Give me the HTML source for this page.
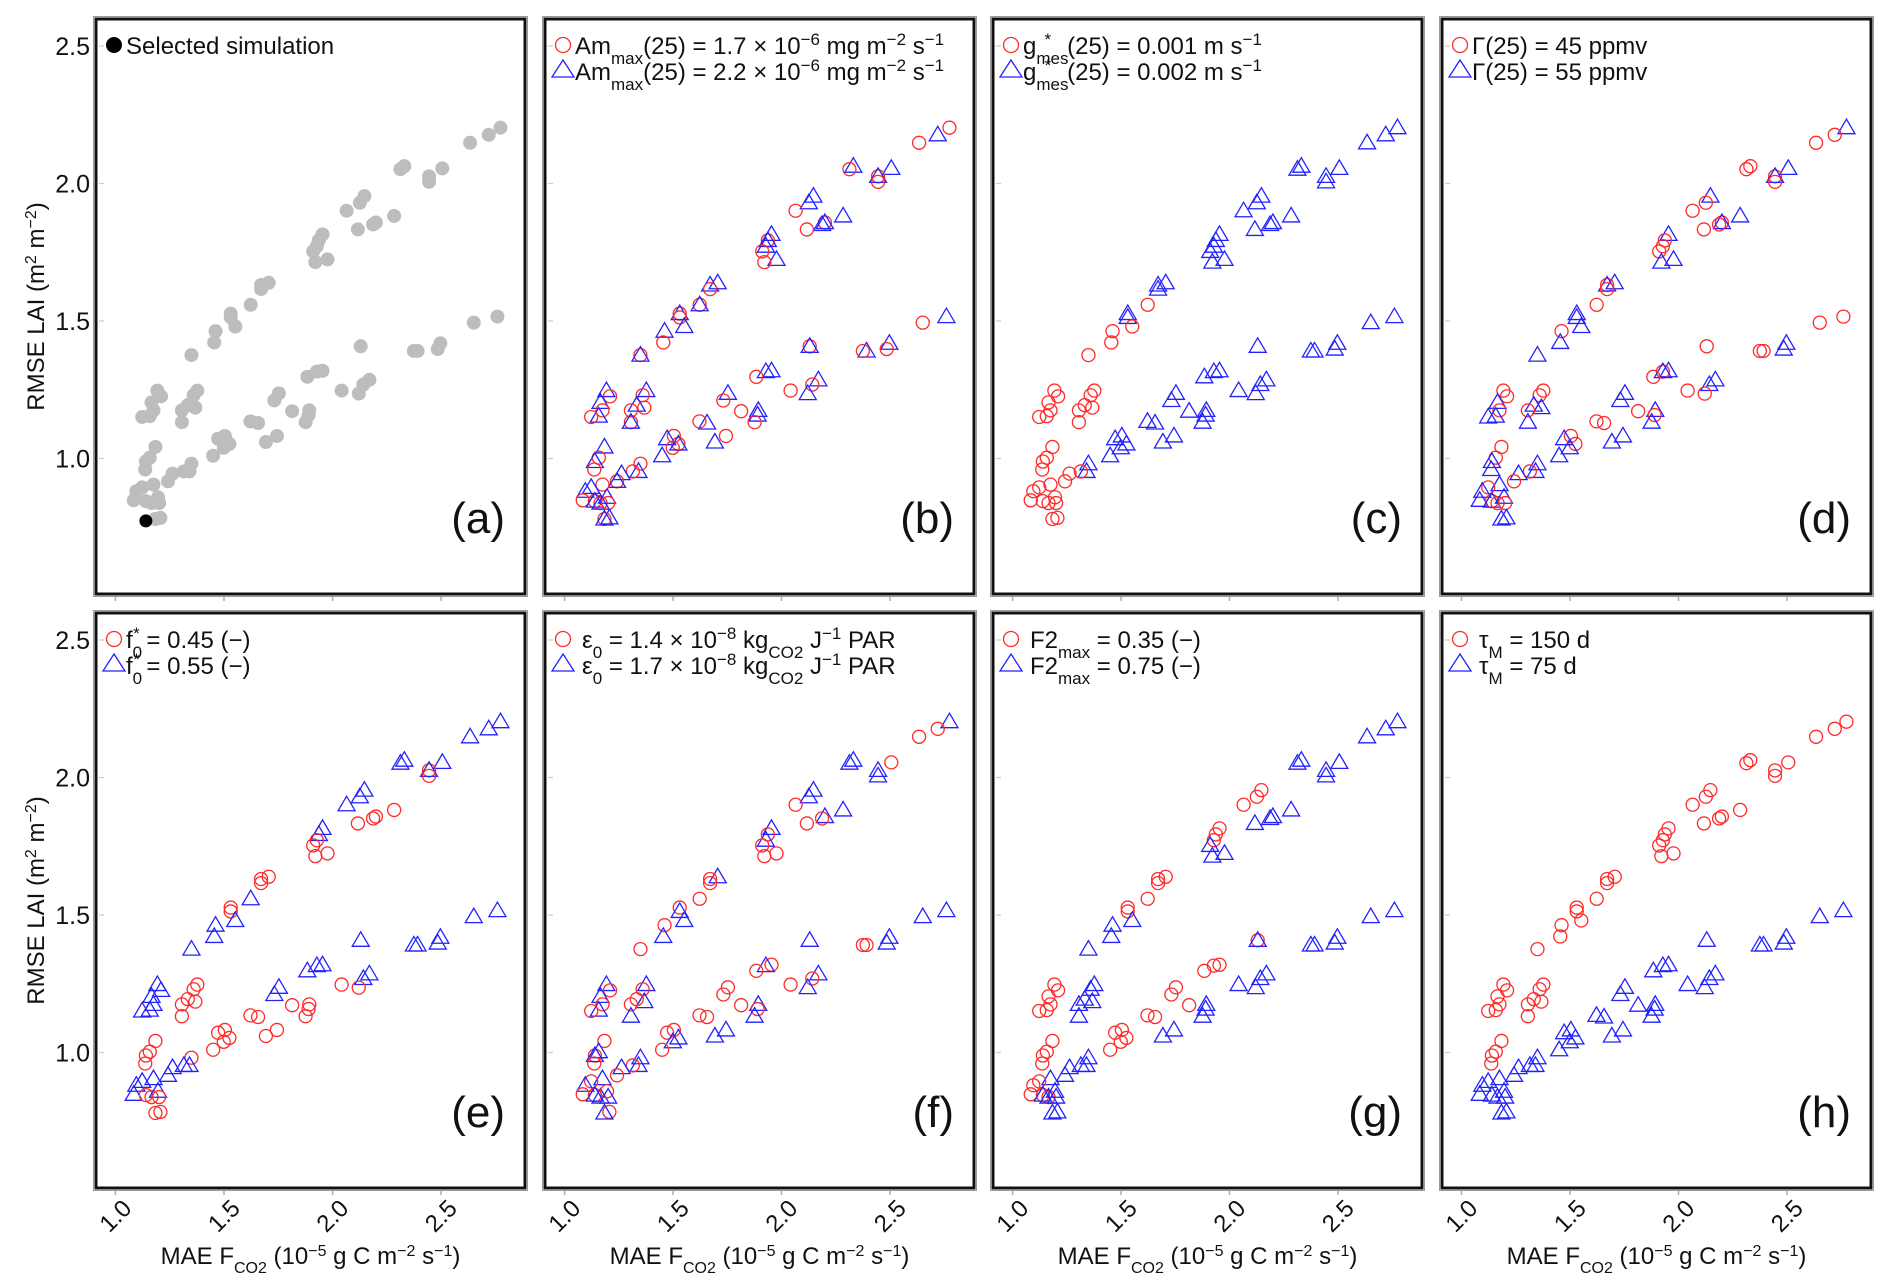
<!DOCTYPE html>
<html><head><meta charset="utf-8"><style>
html,body{margin:0;padding:0;background:#fff;}
svg{display:block;font-family:"Liberation Sans",sans-serif;}
</style></head><body>
<svg id="fig" width="1892" height="1288" viewBox="0 0 1892 1288" xmlns="http://www.w3.org/2000/svg">
<g id="panels"></g>
<g id="legends" font-size="24" fill="#111">
 <g>
  <circle cx="114" cy="45" r="8" fill="#000"/>
  <text x="126" y="54">Selected simulation</text>
 </g>
 <g>
  <text x="575" y="54">Am<tspan baseline-shift="sub" font-size="17">max</tspan>(25) = 1.7 × 10<tspan baseline-shift="super" font-size="17">−6</tspan>  mg  m<tspan baseline-shift="super" font-size="17">−2</tspan>  s<tspan baseline-shift="super" font-size="17">−1</tspan></text>
  <text x="575" y="80">Am<tspan baseline-shift="sub" font-size="17">max</tspan>(25) = 2.2 × 10<tspan baseline-shift="super" font-size="17">−6</tspan>  mg  m<tspan baseline-shift="super" font-size="17">−2</tspan>  s<tspan baseline-shift="super" font-size="17">−1</tspan></text>
 </g>
 <g>
  <text x="1023" y="54">g<tspan baseline-shift="sub" font-size="17">mes</tspan><tspan dx="-24" baseline-shift="super" font-size="17">*</tspan><tspan dx="16">(25) = 0.001 m  s</tspan><tspan baseline-shift="super" font-size="17">−1</tspan></text>
  <text x="1023" y="80">g<tspan baseline-shift="sub" font-size="17">mes</tspan><tspan dx="-24" baseline-shift="super" font-size="17">*</tspan><tspan dx="16">(25) = 0.002 m  s</tspan><tspan baseline-shift="super" font-size="17">−1</tspan></text>
 </g>
 <g>
  <text x="1472" y="54">Γ(25) = 45 ppmv</text>
  <text x="1472" y="80">Γ(25) = 55 ppmv</text>
 </g>
 <g>
  <text x="126" y="648">f<tspan baseline-shift="sub" font-size="17">0</tspan><tspan dx="-9" baseline-shift="super" font-size="17">*</tspan> = 0.45 (−)</text>
  <text x="126" y="674">f<tspan baseline-shift="sub" font-size="17">0</tspan><tspan dx="-9" baseline-shift="super" font-size="17">*</tspan> = 0.55 (−)</text>
 </g>
 <g>
  <text x="582" y="648">ε<tspan baseline-shift="sub" font-size="17">0</tspan> = 1.4 × 10<tspan baseline-shift="super" font-size="17">−8</tspan> kg<tspan baseline-shift="sub" font-size="17">CO2</tspan>  J<tspan baseline-shift="super" font-size="17">−1</tspan>  PAR</text>
  <text x="582" y="674">ε<tspan baseline-shift="sub" font-size="17">0</tspan> = 1.7 × 10<tspan baseline-shift="super" font-size="17">−8</tspan> kg<tspan baseline-shift="sub" font-size="17">CO2</tspan>  J<tspan baseline-shift="super" font-size="17">−1</tspan>  PAR</text>
 </g>
 <g>
  <text x="1030" y="648">F2<tspan baseline-shift="sub" font-size="17">max</tspan> = 0.35 (−)</text>
  <text x="1030" y="674">F2<tspan baseline-shift="sub" font-size="17">max</tspan> = 0.75 (−)</text>
 </g>
 <g>
  <text x="1479" y="648">τ<tspan baseline-shift="sub" font-size="17">M</tspan> = 150 d</text>
  <text x="1479" y="674">τ<tspan baseline-shift="sub" font-size="17">M</tspan> = 75 d</text>
 </g>
</g>
</svg>
<script>
const upperX=[2.774,2.72,2.634,2.506,2.445,2.445,2.331,2.313,2.284,2.2,2.187,2.117,2.147,2.126,2.065,1.954,1.937,1.928,1.911,1.977,1.921,1.706,1.671,1.671,1.623,1.531,1.531,1.552,1.461,1.455,1.35,1.377,1.36,1.368,1.333,1.306,1.306,1.193,1.21,1.166,1.175,1.158,1.123];
const upperY=[2.203,2.177,2.148,2.055,2.026,2.006,2.063,2.052,1.882,1.858,1.851,1.833,1.954,1.93,1.901,1.815,1.793,1.772,1.753,1.724,1.714,1.639,1.631,1.616,1.559,1.527,1.513,1.48,1.463,1.422,1.376,1.247,1.23,1.185,1.194,1.175,1.132,1.247,1.226,1.204,1.175,1.154,1.151];
const lowerX=[2.76,2.651,2.497,2.485,2.392,2.375,2.13,2.17,2.142,2.121,2.042,1.954,1.928,1.884,1.893,1.89,1.876,1.814,1.753,1.732,1.744,1.693,1.657,1.622,1.525,1.504,1.473,1.499,1.45,1.35,1.341,1.315,1.263,1.242];
const lowerY=[1.516,1.494,1.419,1.398,1.391,1.391,1.408,1.286,1.269,1.236,1.247,1.319,1.316,1.297,1.175,1.158,1.132,1.172,1.237,1.211,1.082,1.06,1.129,1.135,1.053,1.082,1.072,1.039,1.01,0.981,0.953,0.953,0.945,0.917];
const clusterX=[1.184,1.158,1.14,1.137,1.175,1.123,1.096,1.084,1.14,1.166,1.196,1.201,1.207,1.184];
const clusterY=[1.042,1.003,0.989,0.96,0.905,0.895,0.881,0.848,0.845,0.838,0.859,0.838,0.784,0.78];
const selectedX=[1.14];
const selectedY=[0.773];
const groupsB="rbrbxrbrbxbrbbrbxbrbrbbrxxrbbrxbrrbrxbrbrbr"+"brbrbrxbrbrbbrbbrrbrrbbrxrbrbrbrbx"+"brbrrbbrxxbrbx";
const groupsC="bbbbbbbbbbbbbbbbbbbbbbbbrbbrrrrrrrrrrrrrrrr"+"bbbbbbbbbbbbbbbbbbbbbbbbbbbbbbbrrr"+"rrrrrrrrrrrrrr";
const groupsD="brrbxrrrbxrrbrrbrrrbbbxrrbbbrbbrrbbrbrrbrbb"+"rrbbrrrbbrrbxrbrbrbbbbrrrrbbbbbrbr"+"rrbbbrbbxrbrbb";
const groupsE="bbbbxrbbrrrrbbbbbrrrrrrrbrrbbbbrrrrrrbbbbbb"+"bbbbbbbbbrrbbbrrrrbbrrrrrrrrrrbbbb"+"rrrrbbbbrrbrrr";
const groupsF="brrrbbbbbbrrbbrbrbrrrbrrrrbbrbrbrbrrbbrbrbr"+"bbbbrrbbrbrrbrbrbrrrbbrrbrrbrbbrbr"+"rbxrbrbrxbrbrb";
const groupsG="bbbbbbbbbbbbrrrrrrbbbrrrrrrbbbbbbbbbbrrrrrr"+"bbbbbbxbbbbrrrbbbrrrbbrrrrrrrbbbbb"+"rrrrbrrrxxbbbb";
const groupsH="rrrrrrrrrrrrrrrrrrrrrrrrrrrrrrrrrrrrrrrrrrr"+"bbbbbbbbbbbbbbbbbbbbbbbbbbbbbbbbbb"+"rrrrbbbbbbbbbb";
const panelLetters=["a","b","c","d","e","f","g","h"];
const xTicks=[1.0,1.5,2.0,2.5];
const yTicks=[1.0,1.5,2.0,2.5];
const xTickLabels=["1.0","1.5","2.0","2.5"];
const yTickLabels=["1.0","1.5","2.0","2.5"];

const NS="http://www.w3.org/2000/svg";
const colLeft=[96,545,993,1442], rowTop=[19,613], PW=429, PH=575;
function sx(col,v){return colLeft[col]+19.5+(v-1)*217;}
function sy(row,v){return rowTop[row]+27+(2.5-v)*275;}
function mk(tag,attrs,parent){const e=document.createElementNS(NS,tag);for(const k in attrs)e.setAttribute(k,attrs[k]);parent.appendChild(e);return e;}
const allX=upperX.concat(lowerX,clusterX), allY=upperY.concat(lowerY,clusterY);
const groups=[null,groupsB,groupsC,groupsD,groupsE,groupsF,groupsG,groupsH];
const root=document.getElementById('panels');
for(let p=0;p<8;p++){
  const col=p%4,row=Math.floor(p/4);
  const L=colLeft[col],T=rowTop[row];
  const g=mk('g',{},root);
  
  
  xTicks.forEach((t,i)=>{
    const tk=mk('line',{x1:sx(col,t),x2:sx(col,t),y1:T+PH+2,y2:T+PH+7,stroke:'#aaa','stroke-width':1.5},g);
    
    
    if(row===1){
      const x=sx(col,t),y=T+PH+36;
      const tl=mk('text',{x:x,y:y,'font-size':24,'text-anchor':'middle',fill:'#111',transform:'rotate(-45 '+x+' '+(y-8)+')'},g);
      tl.textContent=xTickLabels[i];
      
      
    }
  });
  yTicks.forEach((t,i)=>{
    const tk=mk('line',{x1:L+3,x2:L+8,y1:sy(row,t),y2:sy(row,t),stroke:'#ccc','stroke-width':1.2},g);
    
    
    if(col===0){
      const tl=mk('text',{x:L-6,y:sy(row,t)+9,'font-size':25,'text-anchor':'end',fill:'#111'},g);
      tl.textContent=yTickLabels[i];
      
      
    }
  });
  const fr=mk('rect',{x:L,y:T,width:PW,height:PH,fill:'none',stroke:'#111','stroke-width':3},g);
  
  
  mk('rect',{x:L-2.5,y:T-2.5,width:PW+5,height:PH+5,fill:'none',stroke:'#999','stroke-width':1},g);
  const gm=mk('g',{},g);
  
  
  for(let i=0;i<allX.length;i++){
    const x=sx(col,allX[i]),y=sy(row,allY[i]);
    if(p===0){
      const c=mk('circle',{cx:x,cy:y,r:7,fill:'#bdbdbd'},gm);
      
      
      continue;
    }
    const code=groups[p][i]||'r';
    if(code==='r'||code==='x'){
      const c=mk('circle',{cx:x,cy:y,r:6.5,fill:'none',stroke:'#ff2a2a','stroke-width':1.3},gm);
      
      
    }
    if(code==='b'||code==='x'){
      const tr=mk('polygon',{points:(x)+','+(y-8.5)+' '+(x-8.5)+','+(y+6)+' '+(x+8.5)+','+(y+6),fill:'none',stroke:'#2222ff','stroke-width':1.3},gm);
      
      
    }
  }
  if(p===0){
    for(let i=0;i<selectedX.length;i++){
      const c=mk('circle',{cx:sx(col,selectedX[i]),cy:sy(row,selectedY[i]),r:6.5,fill:'#000'},gm);
      
      
    }
  }else{
    const lc=mk('circle',{cx:L+18,cy:T+26,r:7.5,fill:'none',stroke:'#ff2a2a','stroke-width':1.3},g);
    
    
    const lx=L+18,ly=T+51;
    const lt=mk('polygon',{points:lx+','+(ly-10)+' '+(lx-11)+','+(ly+7)+' '+(lx+11)+','+(ly+7),fill:'none',stroke:'#2222ff','stroke-width':1.3},g);
    
    
  }
  const pl=mk('text',{x:L+PW-20,y:T+514,'font-size':44,'text-anchor':'end',fill:'#111'},g);
  pl.textContent='('+panelLetters[p]+')';
  
  
  if(col===0){
    const cy=T+PH/2, cx=44;
    const yl=mk('text',{x:cx,y:cy,'font-size':24,'text-anchor':'middle',fill:'#111',transform:'rotate(-90 '+cx+' '+cy+')'},g);
    yl.innerHTML='RMSE LAI (m<tspan baseline-shift="super" font-size="16">2</tspan>  m<tspan baseline-shift="super" font-size="16">−2</tspan>)';
    
    
  }
  if(row===1){
    const xl=mk('text',{x:L+PW/2,y:1264,'font-size':24,'text-anchor':'middle',fill:'#111'},g);
    xl.innerHTML='MAE F<tspan baseline-shift="sub" font-size="16">CO2</tspan> (10<tspan baseline-shift="super" font-size="16">−5</tspan>  g  C  m<tspan baseline-shift="super" font-size="16">−2</tspan>  s<tspan baseline-shift="super" font-size="16">−1</tspan>)';
    
    
  }
}
</script>
</body></html>
